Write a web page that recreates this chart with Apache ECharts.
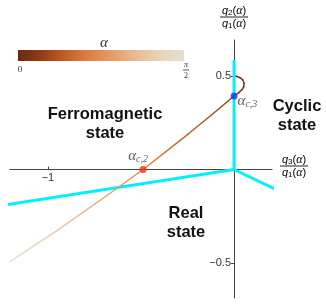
<!DOCTYPE html>
<html>
<head>
<meta charset="utf-8">
<script src="https://cdn.jsdelivr.net/npm/echarts@6/dist/echarts.min.js"></script>
<style>html,body{margin:0;padding:0;background:#fff}#c{width:326px;height:304px}</style>
</head>
<body>
<div id="c"></div>
<script>
// ---- data ----
const HALF_PI = Math.PI / 2;
// parametric curve: q3/q1 (x), q2/q1 (y), alpha
const curveQ3 = [0.01, 0.032, 0.047, 0.054, 0.052, 0.043, 0.025, 0.0, -0.12, -0.245, -0.37, -0.489, -0.7, -0.95, -1.204];
const curveQ2 = [0.5, 0.491, 0.479, 0.461, 0.443, 0.427, 0.411, 0.393, 0.293, 0.191, 0.093, 0.0, -0.151, -0.325, -0.493];
const curveAlpha = [0.0, 0.03, 0.06, 0.09, 0.12, 0.15, 0.18, 0.21, 0.34, 0.47, 0.6, 0.73, 0.95, 1.25, HALF_PI];
// phase boundaries (cyan)
const boundaryUp = [[0, 0], [0, 0.586]];
const boundaryLeft = [[0, 0], [-1.242, -0.191]];
const boundaryRight = [[0, 0], [0.285, -0.136]];
// critical points
const pointC3 = [0, 0.393];
const pointC2 = [-0.489, 0];
// axis ranges and ticks
const xRange = [-1.204, 0.204];
const yRange = [-0.687, 0.6925];
const xTicks = [-1];
const yTicks = [-0.5, 0.5];
// colour scale for alpha in [0, pi/2]
const alphaStops = [
  [0.00, '#6a2a10'], [0.12, '#8a3a16'], [0.25, '#b9561f'], [0.40, '#d97a3e'],
  [0.55, '#e39a63'], [0.70, '#e8b98f'], [0.85, '#e9d2b8'], [1.00, '#e6dfd3']
];

const W = 326, H = 304;
const G = {left: 10, right: 54, top: 40, bottom: 6};
const gw = W - G.left - G.right, gh = H - G.top - G.bottom;
// move axes onto the zero lines
const xAxisOffset = -gh * (0 - yRange[0]) / (yRange[1] - yRange[0]);
const yAxisOffset = -gw * (0 - xRange[0]) / (xRange[1] - xRange[0]);

function hex2rgb(h){return [parseInt(h.substr(1,2),16),parseInt(h.substr(3,2),16),parseInt(h.substr(5,2),16)];}
function colorAt(a){
  let t = Math.max(0, Math.min(1, a / HALF_PI));
  for (let i = 0; i < alphaStops.length - 1; i++) {
    const [o1, c1] = alphaStops[i], [o2, c2] = alphaStops[i + 1];
    if (t <= o2) {
      const f = (t - o1) / (o2 - o1), r1 = hex2rgb(c1), r2 = hex2rgb(c2);
      return 'rgb(' + r1.map((v, k) => Math.round(v + (r2[k] - v) * f)).join(',') + ')';
    }
  }
  return alphaStops[alphaStops.length - 1][1];
}

const segs = [];
for (let i = 0; i < curveQ3.length - 1; i++) {
  segs.push([curveQ3[i], curveQ2[i], curveQ3[i + 1], curveQ2[i + 1], curveAlpha[i], curveAlpha[i + 1]]);
}

const fmt = v => (v < 0 ? '\u2212' + Math.abs(v) : String(v));
const cyanStyle = {color: '#00f0ff', width: 3};
function cyanSeries(d){
  return {type: 'line', data: d, symbol: 'none', clip: false, z: 2, lineStyle: cyanStyle, silent: true, animation: false};
}
const fracRich = {
  q: {fontFamily: 'Liberation Sans', fontStyle: 'italic', fontSize: 11, color: '#222'},
  s: {fontFamily: 'Liberation Sans', fontSize: 8, color: '#222', verticalAlign: 'bottom', padding: [4, 0, 0, 0]},
  p: {fontFamily: 'Liberation Sans', fontSize: 11, color: '#222'},
  a: {fontFamily: 'Liberation Serif', fontStyle: 'italic', fontSize: 12, color: '#222'}
};
function fraction(cx, cy, n, d){
  return {type: 'group', children: [
    {type: 'text', x: cx, y: cy - 6, style: {text: '{q|q}{s|' + n + '}{p|(}{a|α}{p|)}', rich: fracRich, align: 'center', verticalAlign: 'middle'}},
    {type: 'line', shape: {x1: cx - 14, y1: cy, x2: cx + 14, y2: cy}, style: {stroke: '#222', lineWidth: 1}},
    {type: 'text', x: cx, y: cy + 7, style: {text: '{q|q}{s|' + d + '}{p|(}{a|α}{p|)}', rich: fracRich, align: 'center', verticalAlign: 'middle'}}
  ]};
}
const boldText = (x, y, t) => ({type: 'text', x: x, y: y, style: {text: t, font: 'bold 16.5px "Liberation Sans"', fill: '#111', align: 'center', verticalAlign: 'middle', lineHeight: 19.5}});
const critLabel = (sub) => ({show: true, formatter: '{a|α}{s|' + sub + '}', rich: {
  a: {fontFamily: 'Liberation Serif', fontStyle: 'italic', fontSize: 15, color: '#333'},
  s: {fontFamily: 'Liberation Serif', fontStyle: 'italic', fontSize: 10, color: '#333', verticalAlign: 'bottom', padding: [6, 0, 0, 0]}
}});

const chart = echarts.init(document.getElementById('c'), null, {renderer: 'canvas', width: W, height: H});
chart.setOption({
  animation: false,
  backgroundColor: '#fff',
  grid: {left: G.left, right: G.right, top: G.top, bottom: G.bottom, containLabel: false, outerBoundsMode: 'none'},
  xAxis: {
    type: 'value', min: xRange[0], max: xRange[1], position: 'bottom', offset: xAxisOffset,
    axisLine: {onZero: false, lineStyle: {color: '#444', width: 1}},
    splitLine: {show: false},
    axisTick: {inside: true, length: 3, customValues: xTicks, lineStyle: {color: '#444'}},
    axisLabel: {customValues: xTicks, formatter: fmt, fontSize: 11, color: '#333', margin: 3, fontFamily: 'Liberation Sans'}
  },
  yAxis: {
    type: 'value', min: yRange[0], max: yRange[1], position: 'left', offset: yAxisOffset,
    axisLine: {onZero: false, lineStyle: {color: '#444', width: 1}},
    splitLine: {show: false},
    axisTick: {inside: false, length: 3, customValues: yTicks, lineStyle: {color: '#444'}},
    axisLabel: {customValues: yTicks, formatter: fmt, fontSize: 11, color: '#333', margin: 3, fontFamily: 'Liberation Sans'}
  },
  series: [
    cyanSeries(boundaryUp), cyanSeries(boundaryLeft), cyanSeries(boundaryRight),
    {
      type: 'custom', data: segs, z: 3, silent: true,
      encode: {x: [0, 2], y: [1, 3]},
      renderItem: function (params, api) {
        const p1 = api.coord([api.value(0), api.value(1)]);
        const p2 = api.coord([api.value(2), api.value(3)]);
        return {type: 'line', shape: {x1: p1[0], y1: p1[1], x2: p2[0], y2: p2[1]},
          style: {lineWidth: 1.5, lineCap: 'round', stroke: {type: 'linear', global: true,
            x: p1[0], y: p1[1], x2: p2[0] + 0.001, y2: p2[1] + 0.001,
            colorStops: [{offset: 0, color: colorAt(api.value(4))}, {offset: 1, color: colorAt(api.value(5))}]}}};
      }
    },
    {type: 'scatter', data: [pointC3], symbolSize: 7, z: 5, itemStyle: {color: '#1a35ff'},
      label: Object.assign(critLabel('c,3'), {position: 'right', distance: 0, offset: [0, 5]})},
    {type: 'scatter', data: [pointC2], symbolSize: 7, z: 5, itemStyle: {color: '#ff2a00'},
      label: Object.assign(critLabel('c,2'), {position: 'top', distance: 2, offset: [-5, 0]})}
  ],
  graphic: [
    {type: 'rect', shape: {x: 18, y: 50, width: 166, height: 11}, style: {fill: {type: 'linear', x: 0, y: 0, x2: 1, y2: 0,
      colorStops: alphaStops.map(s => ({offset: s[0], color: s[1]}))}}},
    {type: 'text', x: 104, y: 43, style: {text: 'α', font: 'italic 15px "Liberation Serif"', fill: '#333', align: 'center', verticalAlign: 'middle'}},
    {type: 'text', x: 20, y: 70, style: {text: '0', font: '9px "Liberation Serif"', fill: '#333', align: 'center', verticalAlign: 'middle'}},
    {type: 'text', x: 186, y: 65, style: {text: 'π', font: 'italic 8px "Liberation Serif"', fill: '#333', align: 'center', verticalAlign: 'middle'}},
    {type: 'line', shape: {x1: 183, y1: 70, x2: 189, y2: 70}, style: {stroke: '#333', lineWidth: 0.8}},
    {type: 'text', x: 186, y: 76, style: {text: '2', font: '8px "Liberation Serif"', fill: '#333', align: 'center', verticalAlign: 'middle'}},
    fraction(234, 17, '2', '1'),
    fraction(294, 166, '3', '1'),
    boldText(105, 124, 'Ferromagnetic\nstate'),
    boldText(297, 116, 'Cyclic\nstate'),
    boldText(186, 223, 'Real\nstate')
  ]
});
</script>
</body>
</html>
